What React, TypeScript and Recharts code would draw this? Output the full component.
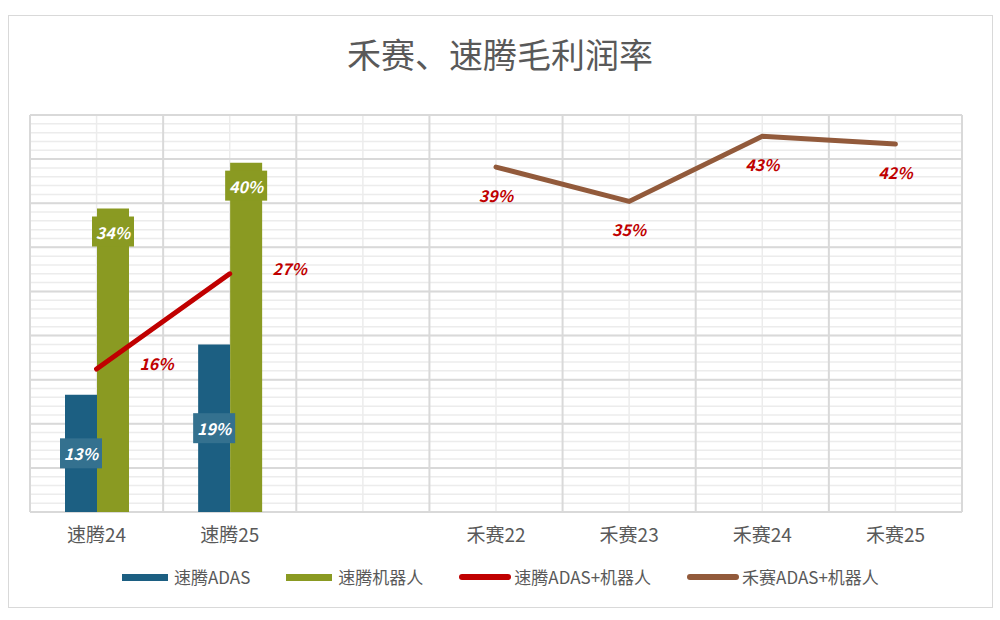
import { ComposedChart, Bar, Line, XAxis, YAxis, CartesianGrid, LabelList } from "recharts";

const categories = ["速腾24", "速腾25", "", "禾赛22", "禾赛23", "禾赛24", "禾赛25"];
const robosenseAdas = [0.133, 0.19, null, null, null, null, null];
const robosenseRobot = [0.344, 0.396, null, null, null, null, null];
const robosenseTotal = [0.162, 0.27, null, null, null, null, null];
const hesaiTotal = [null, null, null, 0.391, 0.352, 0.426, 0.417];

const yTicks = [0, 0.05, 0.1, 0.15, 0.2, 0.25, 0.3, 0.35, 0.4, 0.45];
const yMinorTicks = Array.from({ length: 46 }, (_, i) => i / 100);

const seriesNames = ["速腾ADAS", "速腾机器人", "速腾ADAS+机器人", "禾赛ADAS+机器人"];
const seriesColors = ["#1c5f82", "#8a9a22", "#c00000", "#925a3b"];

const chartData = categories.map((name, i) => ({
  name,
  adas: robosenseAdas[i],
  robot: robosenseRobot[i],
  rsTotal: robosenseTotal[i],
  hsTotal: hesaiTotal[i],
}));

const FONT = '"Noto Sans CJK SC", "Noto Sans", sans-serif';
const pct = (v: number) => `${Math.round(v * 100)}%`;

// category boundary lines (major vertical grid)
const boundaryLines = ({ offset }: any) =>
  Array.from({ length: categories.length + 1 }, (_, i) => offset.left + (i * offset.width) / categories.length);

const BoxLabel = (fill: string, mode: "center" | "top") => (props: any) => {
  const { x, y, width, height, value } = props;
  if (value == null) return null;
  const cx = x + width / 2;
  const cy = mode === "center" ? y + height / 2 : y + 23;
  return (
    <g>
      <rect x={cx - 21} y={cy - 15} width={42} height={30} fill={fill} />
      <text
        x={cx}
        y={cy}
        textAnchor="middle"
        dominantBaseline="central"
        fill="#fff"
        fontSize={16}
        fontWeight={600}
        fontStyle="italic"
        fontFamily={FONT}
      >
        {pct(value)}
      </text>
    </g>
  );
};

const RedLabel = (dx: number, dy: number) => (props: any) => {
  const { x, y, value } = props;
  if (value == null) return null;
  return (
    <text
      x={x + dx}
      y={y + dy}
      textAnchor="middle"
      dominantBaseline="central"
      fill="#c00000"
      fontSize={16}
      fontWeight={600}
      fontStyle="italic"
      fontFamily={FONT}
    >
      {pct(value)}
    </text>
  );
};

const App = () => {
  return (
    <div style={{ position: "absolute", left: 0, top: 0, width: 1000, height: 620, background: "#fff", fontFamily: FONT }}>
      <div
        style={{
          position: "absolute",
          left: 8,
          top: 15,
          width: 985,
          height: 593,
          border: "1px solid #d9d9d9",
          boxSizing: "border-box",
        }}
      />
      <div
        style={{
          position: "absolute",
          left: 0,
          top: 31,
          width: 1000,
          textAlign: "center",
          fontSize: 34,
          color: "#595959",
          lineHeight: "46px",
        }}
      >
        禾赛、速腾毛利润率
      </div>
      <div style={{ position: "absolute", left: 0, top: 0 }}>
        <ComposedChart
          width={1000}
          height={620}
          data={chartData}
          margin={{ top: 115, right: 38, left: 30, bottom: 78 }}
          barGap={0}
        >
          <CartesianGrid yAxisId="minor" stroke="#ececec" strokeWidth={1.5} />
          <CartesianGrid
            yAxisId="main"
            stroke="#d9d9d9"
            strokeWidth={2}
            verticalCoordinatesGenerator={boundaryLines}
          />
          <XAxis
            dataKey="name"
            height={30}
            tickLine={false}
            axisLine={false}
            tickMargin={11}
            tick={{ fontSize: 19, fill: "#595959", fontFamily: FONT }}
            interval={0}
          />
          <YAxis yAxisId="main" domain={[0, 0.45]} ticks={yTicks} allowDataOverflow interval={0} hide />
          <YAxis
            yAxisId="minor"
            orientation="right"
            type="number"
            domain={[0, 0.45]}
            ticks={yMinorTicks}
            allowDataOverflow
            interval={0}
            hide
          />
          <Bar yAxisId="main" dataKey="adas" fill={seriesColors[0]} barSize={32} isAnimationActive={false}>
            <LabelList dataKey="adas" content={BoxLabel("#34718f", "center")} />
          </Bar>
          <Bar yAxisId="main" dataKey="robot" fill={seriesColors[1]} barSize={32} isAnimationActive={false}>
            <LabelList dataKey="robot" content={BoxLabel(seriesColors[1], "top")} />
          </Bar>
          <Line
            yAxisId="main"
            dataKey="rsTotal"
            stroke={seriesColors[2]}
            strokeWidth={5}
            strokeLinecap="round"
            dot={false}
            isAnimationActive={false}
          >
            <LabelList dataKey="rsTotal" content={RedLabel(60, -6)} />
          </Line>
          <Line
            yAxisId="main"
            dataKey="hsTotal"
            stroke={seriesColors[3]}
            strokeWidth={5}
            strokeLinecap="round"
            dot={false}
            isAnimationActive={false}
          >
            <LabelList dataKey="hsTotal" content={RedLabel(0, 28)} />
          </Line>
        </ComposedChart>
      </div>
      <div
        style={{
          position: "absolute",
          left: 122,
          top: 565,
          display: "flex",
          alignItems: "center",
          fontSize: 17,
          color: "#595959",
          lineHeight: "24px",
        }}
      >
        {seriesNames.map((n, i) => (
          <div key={n} style={{ display: "flex", alignItems: "center", marginRight: 36 }}>
            <span
              style={{
                display: "inline-block",
                width: i < 2 ? 46 : 52,
                height: i < 2 ? 7 : 6,
                background: seriesColors[i],
                borderRadius: i < 2 ? 0 : 3,
                marginRight: i < 2 ? 6 : 3,
              }}
            />
            <span>{n}</span>
          </div>
        ))}
      </div>
    </div>
  );
};

export default App;
